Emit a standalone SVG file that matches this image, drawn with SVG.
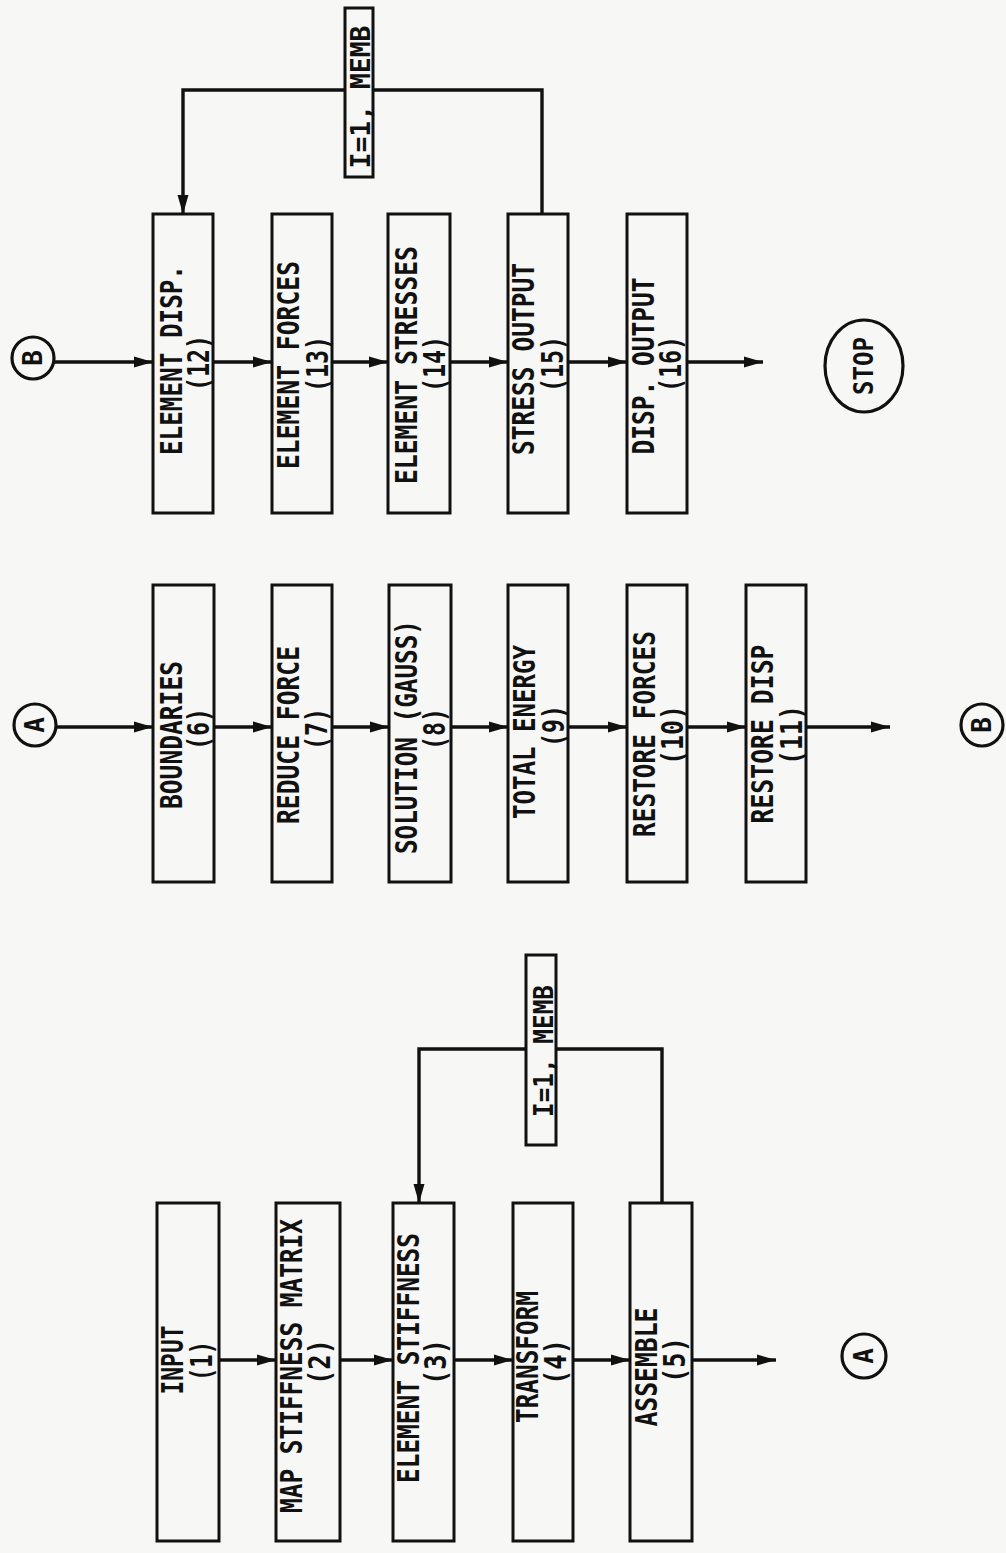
<svg xmlns="http://www.w3.org/2000/svg" width="1006" height="1553" viewBox="0 0 1006 1553">
  <style>
    .bg { fill: #f7f7f5; }
    .box { fill: none; stroke: #111; stroke-width: 3; }
    .lbl { fill: #f7f7f5; stroke: #111; stroke-width: 3; }
    .term { fill: none; stroke: #111; stroke-width: 3.2; }
    .wire { fill: none; stroke: #111; stroke-width: 3.4; stroke-linejoin: miter; }
    .arrow { marker-end: url(#head); }
    text { font-family: "DejaVu Sans Mono", "Liberation Mono", monospace; font-weight: bold; fill: #111; text-anchor: middle; }
    .t { font-size: 31px; }
    .s { font-size: 26px; }
  </style>
  <defs>
    <marker id="head" markerUnits="userSpaceOnUse" markerWidth="20" markerHeight="14" refX="19" refY="7" orient="auto">
      <path d="M0,1.5 L19,7 L0,12.5 Z" fill="#111"/>
    </marker>
  </defs>

  <rect class="bg" x="0" y="0" width="1006" height="1553"/>

  <!-- connectors -->
  <g id="connectors">
    <!-- row 1: INPUT .. ASSEMBLE -->
    <line class="wire arrow" x1="219" y1="1360" x2="276" y2="1360"/>
    <line class="wire arrow" x1="340" y1="1360" x2="393" y2="1360"/>
    <line class="wire arrow" x1="454" y1="1360" x2="513" y2="1360"/>
    <line class="wire arrow" x1="573" y1="1360" x2="630" y2="1360"/>
    <line class="wire arrow" x1="692" y1="1360" x2="776" y2="1360"/>
    <polyline class="wire arrow" points="662,1203 662,1049 419,1049 419,1203"/>

    <!-- row 2: BOUNDARIES .. RESTORE DISP -->
    <line class="wire arrow" x1="56" y1="727" x2="153" y2="727"/>
    <line class="wire arrow" x1="214" y1="727" x2="272" y2="727"/>
    <line class="wire arrow" x1="332" y1="727" x2="389" y2="727"/>
    <line class="wire arrow" x1="451" y1="727" x2="508" y2="727"/>
    <line class="wire arrow" x1="568" y1="727" x2="627" y2="727"/>
    <line class="wire arrow" x1="687" y1="727" x2="746" y2="727"/>
    <line class="wire arrow" x1="806" y1="727" x2="890" y2="727"/>

    <!-- row 3: ELEMENT DISP. .. DISP. OUTPUT -->
    <line class="wire arrow" x1="54" y1="362" x2="153" y2="362"/>
    <line class="wire arrow" x1="213" y1="362" x2="272" y2="362"/>
    <line class="wire arrow" x1="332" y1="362" x2="388" y2="362"/>
    <line class="wire arrow" x1="450" y1="362" x2="508" y2="362"/>
    <line class="wire arrow" x1="568" y1="362" x2="627" y2="362"/>
    <line class="wire arrow" x1="687" y1="362" x2="763" y2="362"/>
    <polyline class="wire arrow" points="542,214 542,90 183,90 183,214"/>
  </g>

  <!-- loop labels -->
  <g id="loop-a">
    <rect class="lbl" x="526" y="955" width="30" height="190"/>
    <text class="s" transform="translate(553,1051) rotate(-90)" textLength="132" lengthAdjust="spacingAndGlyphs">I=1, MEMB</text>
  </g>
  <g id="loop-b">
    <rect class="lbl" x="345" y="8" width="28" height="169"/>
    <text class="s" transform="translate(370,97) rotate(-90)" textLength="143" lengthAdjust="spacingAndGlyphs">I=1, MEMB</text>
  </g>

  <!-- first strip -->
  <g id="n1">
    <rect class="box" x="157" y="1203" width="62" height="338"/>
    <text class="t" transform="translate(183,1360) rotate(-90)" textLength="69" lengthAdjust="spacingAndGlyphs">INPUT</text>
    <text class="t" transform="translate(212,1361) rotate(-90)" textLength="40" lengthAdjust="spacingAndGlyphs">(1)</text>
  </g>
  <g id="n2">
    <rect class="box" x="276" y="1203" width="64" height="338"/>
    <text class="t" transform="translate(302,1366) rotate(-90)" textLength="294" lengthAdjust="spacingAndGlyphs">MAP STIFFNESS MATRIX</text>
    <text class="t" transform="translate(330,1362) rotate(-90)" textLength="46" lengthAdjust="spacingAndGlyphs">(2)</text>
  </g>
  <g id="n3">
    <rect class="box" x="393" y="1203" width="61" height="338"/>
    <text class="t" transform="translate(419,1358) rotate(-90)" textLength="250" lengthAdjust="spacingAndGlyphs">ELEMENT STIFFNESS</text>
    <text class="t" transform="translate(446,1362) rotate(-90)" textLength="46" lengthAdjust="spacingAndGlyphs">(3)</text>
  </g>
  <g id="n4">
    <rect class="box" x="513" y="1203" width="60" height="338"/>
    <text class="t" transform="translate(538,1357) rotate(-90)" textLength="132" lengthAdjust="spacingAndGlyphs">TRANSFORM</text>
    <text class="t" transform="translate(566,1362) rotate(-90)" textLength="46" lengthAdjust="spacingAndGlyphs">(4)</text>
  </g>
  <g id="n5">
    <rect class="box" x="630" y="1203" width="62" height="338"/>
    <text class="t" transform="translate(657,1367) rotate(-90)" textLength="119" lengthAdjust="spacingAndGlyphs">ASSEMBLE</text>
    <text class="t" transform="translate(685,1360) rotate(-90)" textLength="46" lengthAdjust="spacingAndGlyphs">(5)</text>
  </g>
  <g id="conn-a-out">
    <circle class="term" cx="864" cy="1356" r="22"/>
    <text class="s" transform="translate(873,1356) rotate(-90)">A</text>
  </g>

  <!-- second strip -->
  <g id="conn-a-in">
    <circle class="term" cx="35" cy="725" r="21"/>
    <text class="s" transform="translate(44,725) rotate(-90)">A</text>
  </g>
  <g id="n6">
    <rect class="box" x="153" y="585" width="61" height="297"/>
    <text class="t" transform="translate(182,735) rotate(-90)" textLength="148" lengthAdjust="spacingAndGlyphs">BOUNDARIES</text>
    <text class="t" transform="translate(209,729) rotate(-90)" textLength="42" lengthAdjust="spacingAndGlyphs">(6)</text>
  </g>
  <g id="n7">
    <rect class="box" x="272" y="585" width="60" height="297"/>
    <text class="t" transform="translate(299,735) rotate(-90)" textLength="178" lengthAdjust="spacingAndGlyphs">REDUCE FORCE</text>
    <text class="t" transform="translate(327,729) rotate(-90)" textLength="42" lengthAdjust="spacingAndGlyphs">(7)</text>
  </g>
  <g id="n8">
    <rect class="box" x="389" y="585" width="62" height="297"/>
    <text class="t" transform="translate(417,737) rotate(-90)" textLength="234" lengthAdjust="spacingAndGlyphs">SOLUTION (GAUSS)</text>
    <text class="t" transform="translate(445,729) rotate(-90)" textLength="42" lengthAdjust="spacingAndGlyphs">(8)</text>
  </g>
  <g id="n9">
    <rect class="box" x="508" y="585" width="60" height="297"/>
    <text class="t" transform="translate(535,732) rotate(-90)" textLength="174" lengthAdjust="spacingAndGlyphs">TOTAL ENERGY</text>
    <text class="t" transform="translate(564,726) rotate(-90)" textLength="42" lengthAdjust="spacingAndGlyphs">(9)</text>
  </g>
  <g id="n10">
    <rect class="box" x="627" y="585" width="60" height="297"/>
    <text class="t" transform="translate(655,734) rotate(-90)" textLength="206" lengthAdjust="spacingAndGlyphs">RESTORE FORCES</text>
    <text class="t" transform="translate(683,735) rotate(-90)" textLength="60" lengthAdjust="spacingAndGlyphs">(10)</text>
  </g>
  <g id="n11">
    <rect class="box" x="746" y="585" width="60" height="297"/>
    <text class="t" transform="translate(773,734) rotate(-90)" textLength="179" lengthAdjust="spacingAndGlyphs">RESTORE DISP</text>
    <text class="t" transform="translate(802,735) rotate(-90)" textLength="60" lengthAdjust="spacingAndGlyphs">(11)</text>
  </g>
  <g id="conn-b-out">
    <circle class="term" cx="982" cy="725" r="21"/>
    <text class="s" transform="translate(991,725) rotate(-90)">B</text>
  </g>

  <!-- third strip -->
  <g id="conn-b-in">
    <circle class="term" cx="33" cy="358" r="21"/>
    <text class="s" transform="translate(42,358) rotate(-90)">B</text>
  </g>
  <g id="n12">
    <rect class="box" x="153" y="214" width="60" height="299"/>
    <text class="t" transform="translate(182,360) rotate(-90)" textLength="190" lengthAdjust="spacingAndGlyphs">ELEMENT DISP.</text>
    <text class="t" transform="translate(209,363) rotate(-90)" textLength="56" lengthAdjust="spacingAndGlyphs">(12)</text>
  </g>
  <g id="n13">
    <rect class="box" x="272" y="214" width="60" height="299"/>
    <text class="t" transform="translate(299,365) rotate(-90)" textLength="208" lengthAdjust="spacingAndGlyphs">ELEMENT FORCES</text>
    <text class="t" transform="translate(328,364) rotate(-90)" textLength="56" lengthAdjust="spacingAndGlyphs">(13)</text>
  </g>
  <g id="n14">
    <rect class="box" x="388" y="214" width="62" height="299"/>
    <text class="t" transform="translate(417,365) rotate(-90)" textLength="238" lengthAdjust="spacingAndGlyphs">ELEMENT STRESSES</text>
    <text class="t" transform="translate(445,364) rotate(-90)" textLength="56" lengthAdjust="spacingAndGlyphs">(14)</text>
  </g>
  <g id="n15">
    <rect class="box" x="508" y="214" width="60" height="299"/>
    <text class="t" transform="translate(534,359) rotate(-90)" textLength="192" lengthAdjust="spacingAndGlyphs">STRESS OUTPUT</text>
    <text class="t" transform="translate(563,364) rotate(-90)" textLength="56" lengthAdjust="spacingAndGlyphs">(15)</text>
  </g>
  <g id="n16">
    <rect class="box" x="627" y="214" width="60" height="299"/>
    <text class="t" transform="translate(654,366) rotate(-90)" textLength="177" lengthAdjust="spacingAndGlyphs">DISP. OUTPUT</text>
    <text class="t" transform="translate(681,364) rotate(-90)" textLength="56" lengthAdjust="spacingAndGlyphs">(16)</text>
  </g>
  <g id="stop">
    <ellipse class="term" cx="864" cy="366" rx="39" ry="46"/>
    <text class="s" transform="translate(873,366) rotate(-90)" textLength="58" lengthAdjust="spacingAndGlyphs">STOP</text>
  </g>
</svg>
